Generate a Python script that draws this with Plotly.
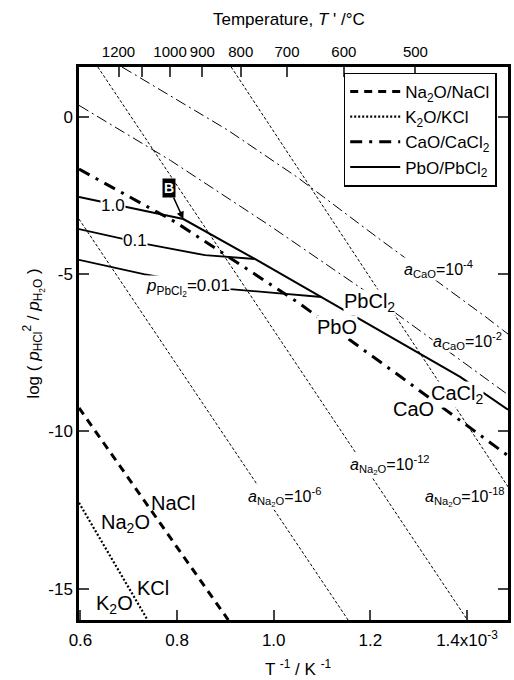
import plotly.graph_objects as go

# ---------------- data ----------------
na2o_nacl_x = [0.597, 0.906]
na2o_nacl_y = [-9.25, -16.0]
k2o_kcl_x = [0.597, 0.739]
k2o_kcl_y = [-12.27, -16.0]
cao_cacl2_x = [0.597, 0.797, 1.049, 1.263, 1.485]
cao_cacl2_y = [-1.65, -3.34, -5.88, -8.26, -10.77]
pbo_pbcl2_x = [0.597, 0.813, 0.961, 1.140, 1.386, 1.485]
pbo_pbcl2_y = [-2.54, -3.24, -4.51, -6.10, -8.26, -9.31]
p_pbcl2_01_x = [0.597, 0.737, 0.858, 0.961]
p_pbcl2_01_y = [-3.56, -4.04, -4.39, -4.51]
p_pbcl2_001_x = [0.597, 0.731, 0.910, 1.049, 1.099]
p_pbcl2_001_y = [-4.54, -4.99, -5.47, -5.66, -5.72]
a_na2o_6_x = [0.597, 1.154]
a_na2o_6_y = [-3.24, -16.0]
a_na2o_12_x = [0.636, 1.401]
a_na2o_12_y = [1.6, -16.0]
a_na2o_18_x = [0.912, 1.485]
a_na2o_18_y = [1.6, -11.76]
a_cao_2_x = [0.597, 0.786, 0.990, 1.195, 1.485]
a_cao_2_y = [0.38, -1.37, -3.43, -5.59, -8.83]
a_cao_4_x = [0.686, 0.905, 1.049, 1.222, 1.442, 1.485]
a_cao_4_y = [1.6, -0.41, -1.91, -3.91, -6.39, -6.90]

x_ticks = [0.6, 0.8, 1.0, 1.2, 1.4]
x_ticktext = ["0.6", "0.8", "1.0", "1.2", "1.4x10<sup>-3</sup>"]
y_ticks = [0, -5, -10, -15]
y_ticktext = ["0", "-5", "-10", "-15"]
temps_c = [1200, 1100, 1000, 900, 800, 700, 600, 500]
temps_text = ["1200", "", "1000", "900", "800", "700", "600", "500"]

FONT = "Liberation Sans, Arial, Helvetica, sans-serif"
XR = [0.597, 1.485]
YR = [-16.0, 1.6]

fig = go.Figure()

def line(x, y, width, dash, name=None, legend=False):
    fig.add_trace(go.Scatter(x=x, y=y, mode="lines", name=name, showlegend=legend,
                             line=dict(color="black", width=width, dash=dash),
                             hoverinfo="skip"))

# thin isolines
line(a_na2o_6_x, a_na2o_6_y, 1, "3px,2px")
line(a_na2o_12_x, a_na2o_12_y, 1, "3px,2px")
line(a_na2o_18_x, a_na2o_18_y, 1, "3px,2px")
line(a_cao_2_x, a_cao_2_y, 1, "11px,4px,2px,4px")
line(a_cao_4_x, a_cao_4_y, 1, "11px,4px,2px,4px")
line(p_pbcl2_01_x, p_pbcl2_01_y, 1.8, "solid")
line(p_pbcl2_001_x, p_pbcl2_001_y, 1.8, "solid")

# main boundaries
line(na2o_nacl_x, na2o_nacl_y, 3, "8px,6px", "Na<sub>2</sub>O/NaCl", True)
line(k2o_kcl_x, k2o_kcl_y, 2.2, "2px,2px", "K<sub>2</sub>O/KCl", True)
line(cao_cacl2_x, cao_cacl2_y, 3, "12px,7px,3px,7px", "CaO/CaCl<sub>2</sub>", True)
line(pbo_pbcl2_x, pbo_pbcl2_y, 2, "solid", "PbO/PbCl<sub>2</sub>", True)

# invisible trace for top temperature axis
temp_pos = [1000.0 / (t + 273.15) for t in temps_c]
fig.add_trace(go.Scatter(x=temp_pos, y=[None] * len(temp_pos), xaxis="x2", mode="markers",
                         showlegend=False, hoverinfo="skip"))

def label(x, y, text, size, bg=None):
    fig.add_annotation(x=x, y=y, text=text, showarrow=False,
                       font=dict(family=FONT, size=size, color="black"),
                       bgcolor=bg if bg else "rgba(0,0,0,0)", borderpad=0)

label(0.667, -2.80, "1.0", 17, "white")
label(0.712, -3.91, "0.1", 17, "white")
label(0.822, -5.42, "<i>p</i><sub>PbCl<sub>2</sub></sub>=0.01", 17, "white")
label(1.199, -5.88, "PbCl<sub>2</sub>", 20, "white")
label(1.132, -6.67, "PbO", 20, "white")
label(1.380, -8.83, "CaCl<sub>2</sub>", 20, "white")
label(1.290, -9.28, "CaO", 20)
label(0.792, -12.27, "NaCl", 20)
label(0.694, -12.93, "Na<sub>2</sub>O", 20)
label(0.751, -14.97, "KCl", 20)
label(0.671, -15.51, "K<sub>2</sub>O", 20)
label(1.341, -4.83, "<i>a</i><sub>CaO</sub>=10<sup>-4</sup>", 16, "white")
label(1.401, -7.12, "<i>a</i><sub>CaO</sub>=10<sup>-2</sup>", 16, "white")
label(1.023, -12.07, "<i>a</i><sub>Na<sub>2</sub>O</sub>=10<sup>-6</sup>", 16, "white")
label(1.240, -11.06, "<i>a</i><sub>Na<sub>2</sub>O</sub>=10<sup>-12</sup>", 16, "white")
label(1.395, -12.07, "<i>a</i><sub>Na<sub>2</sub>O</sub>=10<sup>-18</sup>", 16, "white")

# B marker
fig.add_annotation(x=0.813, y=-3.24, text="<b>B</b>", showarrow=True, ax=-14, ay=-31,
                   arrowhead=2, arrowsize=1, arrowwidth=1.5, arrowcolor="black",
                   font=dict(family=FONT, size=14, color="white"), bgcolor="black",
                   borderpad=1)

# axis titles
fig.add_annotation(xref="paper", yref="paper", x=0.49, y=1.085, xanchor="center", yanchor="middle",
                   text="Temperature, <i>T</i> ' /°C",
                   showarrow=False, font=dict(family=FONT, size=17))
fig.add_annotation(xref="paper", yref="paper", x=0.512, y=-0.087, xanchor="center", yanchor="middle",
                   text="T <sup>-1</sup> / K <sup>-1</sup>",
                   showarrow=False, font=dict(family=FONT, size=17))
fig.add_annotation(xref="paper", yref="paper", x=-0.106, y=0.517, xanchor="center", yanchor="middle",
                   textangle=-90,
                   text="log ( <i>p</i><sub>HCl</sub><sup>2</sup> / <i>p</i><sub>H<sub>2</sub>O</sub> )",
                   showarrow=False, font=dict(family=FONT, size=17))

fig.update_layout(
    width=514, height=680,
    margin=dict(l=79, r=3, t=67, b=60),
    paper_bgcolor="white", plot_bgcolor="white",
    font=dict(family=FONT, size=17, color="black"),
    xaxis=dict(range=XR, tickvals=x_ticks, ticktext=x_ticktext, ticks="inside", ticklen=10,
               tickwidth=2, showline=True, linewidth=2.5, linecolor="black", mirror=True,
               showgrid=False, zeroline=False, tickfont=dict(size=17), tickangle=0,
               ticklabelstandoff=3),
    xaxis2=dict(range=XR, overlaying="x", side="top", tickvals=temp_pos, ticktext=temps_text,
                ticks="inside", ticklen=10, tickwidth=2, showline=False, showgrid=False,
                zeroline=False, tickfont=dict(size=15), tickangle=0, ticklabelstandoff=6),
    yaxis=dict(range=YR, tickvals=y_ticks, ticktext=y_ticktext, ticks="inside", ticklen=10,
               tickwidth=2, showline=True, linewidth=2.5, linecolor="black", mirror="ticks",
               showgrid=False, zeroline=False, tickfont=dict(size=17)),
    legend=dict(x=0.617, y=0.99, xanchor="left", yanchor="top", bgcolor="white",
                bordercolor="black", borderwidth=1.5, font=dict(family=FONT, size=17),
                tracegroupgap=0, itemwidth=50),
    showlegend=True,
)

fig.write_html("out.html", config={"displayModeBar": False},
               post_script="document.body.style.margin='0';document.body.style.overflow='hidden';")
